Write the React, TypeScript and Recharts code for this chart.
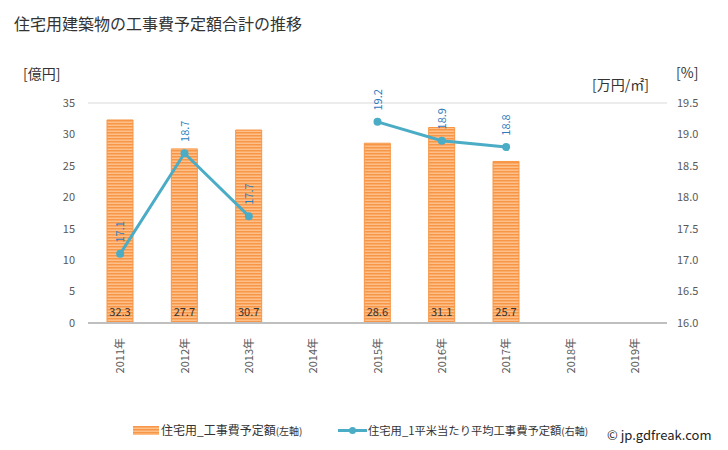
import { ComposedChart, Bar, Line, XAxis, YAxis, CartesianGrid, LabelList } from 'recharts';

// 住宅用建築物の工事費予定額合計の推移 — bars on the left axis (億円), line on the right (万円/㎡).

const years = ['2011年', '2012年', '2013年', '2014年', '2015年', '2016年', '2017年', '2018年', '2019年'];
const totalCost = [32.3, 27.7, 30.7, null, 28.6, 31.1, 25.7, null, null];
const costPerM2 = [17.1, 18.7, 17.7, null, 19.2, 18.9, 18.8, null, null];
const leftTicks = [0, 5, 10, 15, 20, 25, 30, 35];
const rightTicks = [16.0, 16.5, 17.0, 17.5, 18.0, 18.5, 19.0, 19.5];

const rows = years.map((year, i) => ({ year, total: totalCost[i], perM2: costPerM2[i] }));

const C = { orange: '#f79646', stripeLight: '#fdc08a', teal: '#4bacc6', blue: '#2c7bbd', ink: '#333', tick: '#595959', grid: '#d9d9d9', axis: '#bfbfbf' };
const FONT = "'Noto Sans CJK JP', 'Noto Sans', sans-serif";

function YearTick({ x, y, payload }: { x?: number; y?: number; payload?: { value: string } }) {
  return (
    <text x={0} y={0} transform={`translate(${x! + 4},${y! + 7}) rotate(-90)`} textAnchor="end" fontSize={11} fill={C.tick} fontFamily={FONT}>
      {payload?.value}
    </text>
  );
}

function BarValue(props: { x?: number; y?: number; width?: number; height?: number; value?: unknown }) {
  const { x = 0, y = 0, width = 0, height = 0, value } = props;
  if (value == null) return null;
  return (
    <text x={x + width / 2} y={y + height - 7} textAnchor="middle" fontSize={11} fill={C.ink} fontFamily={FONT}>
      {Number(value).toFixed(1)}
    </text>
  );
}

function LineValue(props: { x?: number; y?: number; value?: unknown }) {
  const { x = 0, y = 0, value } = props;
  if (value == null) return null;
  return (
    <text x={0} y={0} transform={`translate(${x + 4},${y - 22}) rotate(-90)`} textAnchor="middle" fontSize={11} fill={C.blue} fontFamily={FONT}>
      {Number(value).toFixed(1)}
    </text>
  );
}

function StripeDefs({ id }: { id: string }) {
  return (
    <defs>
      <pattern id={id} width="4" height="3" patternUnits="userSpaceOnUse">
        <rect width="4" height="3" fill={C.stripeLight} />
        <rect width="4" height="1.5" fill={C.orange} />
      </pattern>
    </defs>
  );
}

export default function App() {
  const tick = { fontSize: 11, fill: C.tick, fontFamily: FONT };
  const small = { fontSize: 10 };
  return (
    <div style={{ position: 'absolute', left: 0, top: 0, width: 728, height: 450, background: '#fff', fontFamily: FONT, color: C.ink }}>
      <div style={{ position: 'absolute', left: 14, top: 11, fontSize: 16 }}>住宅用建築物の工事費予定額合計の推移</div>
      <div style={{ position: 'absolute', left: 23, top: 63, fontSize: 14 }}>[億円]</div>
      <div style={{ position: 'absolute', left: 592, top: 74, fontSize: 14 }}>[万円/㎡]</div>
      <div style={{ position: 'absolute', left: 676, top: 62, fontSize: 14 }}>[%]</div>

      <ComposedChart width={728} height={450} data={rows} margin={{ top: 103, right: 11, bottom: 77, left: 16 }}>
        <StripeDefs id="stripes" />
        <CartesianGrid stroke={C.grid} vertical={false} />
        <XAxis dataKey="year" tick={<YearTick />} tickLine={false} axisLine={{ stroke: C.axis, strokeWidth: 2 }} height={50} interval={0} />
        <YAxis yAxisId="left" domain={[0, 35]} ticks={leftTicks} tick={tick} dx={-5} axisLine={false} tickLine={false} width={72} />
        <YAxis yAxisId="right" orientation="right" domain={[16, 19.5]} ticks={rightTicks} tickFormatter={(v) => Number(v).toFixed(1)} tick={tick} dx={2} axisLine={false} tickLine={false} width={50} />
        <Bar yAxisId="left" dataKey="total" fill="url(#stripes)" stroke={C.orange} strokeWidth={1} barSize={26} isAnimationActive={false}>
          <LabelList dataKey="total" content={<BarValue />} />
        </Bar>
        <Line yAxisId="right" dataKey="perM2" stroke={C.teal} strokeWidth={3} dot={{ r: 4, fill: C.teal, stroke: C.teal, strokeWidth: 0 }} activeDot={false} isAnimationActive={false}>
          <LabelList dataKey="perM2" content={<LineValue />} />
        </Line>
      </ComposedChart>

      <svg style={{ position: 'absolute', left: 133, top: 426 }} width={26} height={9}>
        <StripeDefs id="legendStripes" />
        <rect x={0} y={0} width={26} height={9} fill="url(#legendStripes)" />
      </svg>
      <div style={{ position: 'absolute', left: 161, top: 421, fontSize: 12, whiteSpace: 'nowrap' }}>
        住宅用_工事費予定額<span style={small}>(左軸)</span>
      </div>
      <svg style={{ position: 'absolute', left: 338, top: 425 }} width={29} height={11}>
        <line x1={0} y1={5.5} x2={29} y2={5.5} stroke={C.teal} strokeWidth={3} />
        <circle cx={14.5} cy={5.5} r={3.5} fill={C.teal} />
      </svg>
      <div style={{ position: 'absolute', left: 368, top: 422, fontSize: 11.3, whiteSpace: 'nowrap' }}>
        住宅用_1平米当たり平均工事費予定額<span style={small}>(右軸)</span>
      </div>
      <div style={{ position: 'absolute', left: 607, top: 425, fontSize: 13, color: '#222' }}>© jp.gdfreak.com</div>
    </div>
  );
}
